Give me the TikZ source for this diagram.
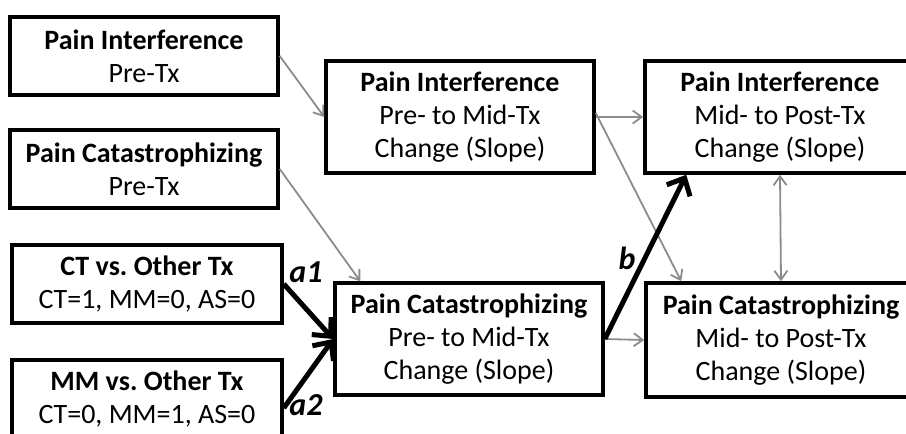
\documentclass[tikz,border=0pt]{standalone}
\usepackage{fontspec}
\setmainfont{Carlito}
\usetikzlibrary{arrows.meta}
\definecolor{pathgray}{RGB}{140,140,140}
\tikzset{
  varbox/.style={draw=black, line width=3.5pt, align=center, inner sep=0pt,
    minimum width=268pt, font=\fontsize{28}{33}\selectfont},
  grayarr/.style={draw=pathgray, line width=1.8pt, -{Straight Barb[length=9pt,width=13pt]}},
  boldarr/.style={draw=black, line width=5pt, -{Straight Barb[length=14pt,width=26pt]}},
  coeff/.style={font=\fontsize{32}{34}\selectfont\bfseries\itshape}
}
\frenchspacing
\begin{document}
\begin{tikzpicture}[x=1pt,y=-1pt]
\useasboundingbox (0,0) rectangle (906,434);
% predictors
\node[varbox, minimum height=78pt] (piPre) at (144,56) {\textbf{Pain Interference}\\Pre-Tx};
\node[varbox, minimum height=78pt] (pcPre) at (144,169) {\textbf{Pain Catastrophizing}\\Pre-Tx};
\node[varbox, minimum height=78pt, minimum width=270pt] (ctTx) at (147,284) {\textbf{CT vs. Other Tx}\\CT=1, MM=0, AS=0};
\node[varbox, minimum height=78pt, minimum width=270pt] (mmTx) at (147,399) {\textbf{MM vs. Other Tx}\\CT=0, MM=1, AS=0};
% slopes
\node[varbox, minimum height=112pt] (piEarly) at (460,117) {\textbf{Pain Interference}\\Pre- to Mid-Tx\\Change (Slope)};
\node[varbox, minimum height=112pt] (pcEarly) at (469,339) {\textbf{Pain Catastrophizing}\\Pre- to Mid-Tx\\Change (Slope)};
\node[varbox, minimum height=112pt, minimum width=270pt] (piLate) at (780,117) {\textbf{Pain Interference}\\Mid- to Post-Tx\\Change (Slope)};
\node[varbox, minimum height=114pt, minimum width=270pt] (pcLate) at (781,340) {\textbf{Pain Catastrophizing}\\Mid- to Post-Tx\\Change (Slope)};
% covariate paths
\draw[grayarr] (piPre.east) -- (piEarly.west);
\draw[grayarr] (pcPre.east) -- ([xshift=27pt]pcEarly.north west);
\draw[grayarr] (piEarly.east) -- (piLate.west);
\draw[grayarr] ([yshift=4pt]piEarly.east) -- ([xshift=37pt]pcLate.north west);
\draw[grayarr] (pcEarly.east) -- (pcLate.west);
\draw[grayarr, {Straight Barb[length=9pt,width=13pt]}-{Straight Barb[length=9pt,width=13pt]}] (piLate.south) -- (pcLate.north);
% mediation paths
\draw[boldarr] (ctTx.east) -- (pcEarly.west);
\draw[boldarr] ([yshift=-9pt]mmTx.east) -- (pcEarly.west);
\draw[boldarr] (pcEarly.east) -- ([xshift=43pt]piLate.south west);
\node[coeff] (a1) at (306,272) {a1};
\node[coeff] (a2) at (306,405) {a2};
\node[coeff] (b) at (627,258) {b};
\end{tikzpicture}
\end{document}
